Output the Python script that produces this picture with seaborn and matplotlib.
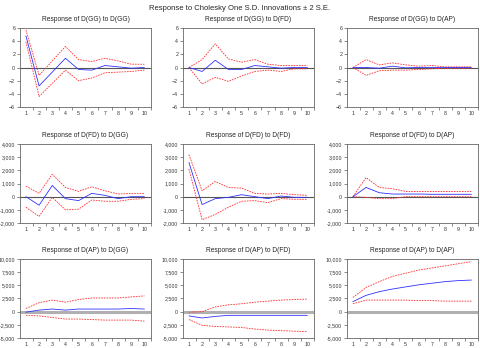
import numpy as np
import pandas as pd
import matplotlib
matplotlib.use("Agg")
import matplotlib.pyplot as plt
import matplotlib.ticker as mticker
import seaborn as sns

# periods
periods = list(range(1, 11))

# response, upper band, lower band for each panel
gg_gg = [4.8, -2.8, -0.7, 1.4, -0.3, -0.4, 0.3, 0.1, -0.1, 0.0]
gg_gg_hi = [5.7, -1.2, 1.0, 3.2, 1.2, 0.9, 1.4, 1.0, 0.5, 0.5]
gg_gg_lo = [3.9, -4.4, -2.4, -0.4, -2.0, -1.6, -0.8, -0.7, -0.6, -0.4]

gg_fd = [0.0, -0.6, 1.1, -0.3, -0.3, 0.3, 0.1, -0.1, 0.0, 0.0]
gg_fd_hi = [0.0, 1.2, 3.6, 1.3, 0.8, 1.2, 0.5, 0.3, 0.3, 0.3]
gg_fd_lo = [0.0, -2.5, -1.5, -2.1, -1.3, -0.6, -0.4, -0.6, -0.2, -0.2]

gg_ap = [0.0, 0.0, -0.1, 0.2, -0.05, 0.0, 0.0, 0.0, 0.0, 0.0]
gg_ap_hi = [0.0, 1.2, 0.4, 0.7, 0.4, 0.2, 0.3, 0.1, 0.1, 0.1]
gg_ap_lo = [0.0, -1.2, -0.5, -0.4, -0.4, -0.3, -0.2, -0.1, -0.1, -0.1]

fd_gg = [0, -650, 850, -150, -300, 250, 100, -150, 0, 0]
fd_gg_hi = [800, 250, 1700, 700, 400, 750, 450, 200, 250, 250]
fd_gg_lo = [-800, -1500, -50, -1000, -950, -250, -350, -350, -200, -150]

fd_fd = [2600, -600, -150, -50, 150, 0, -150, 50, -50, -50]
fd_fd_hi = [3200, 450, 1150, 700, 650, 250, 200, 250, 150, 100]
fd_fd_lo = [2100, -1750, -1350, -800, -350, -300, -450, -150, -200, -200]

fd_ap = [0, 700, 300, 200, 200, 200, 180, 180, 180, 180]
fd_ap_hi = [0, 1450, 700, 600, 400, 400, 400, 400, 400, 400]
fd_ap_lo = [0, -50, -150, -150, 0, 0, 0, 0, 0, 0]

ap_gg = [-100, 300, 500, 300, 500, 500, 500, 500, 600, 500]
ap_gg_hi = [600, 1700, 2200, 1800, 2300, 2600, 2600, 2600, 2800, 3000]
ap_gg_lo = [-700, -800, -1100, -1400, -1400, -1500, -1600, -1600, -1600, -1800]

ap_fd = [-800, -1200, -900, -700, -700, -700, -700, -700, -700, -700]
ap_fd_hi = [-100, 0, 900, 1300, 1500, 1800, 2000, 2200, 2300, 2400]
ap_fd_lo = [-1500, -2600, -2800, -2900, -3000, -3300, -3500, -3600, -3700, -3800]

ap_ap = [1900, 3100, 3800, 4300, 4700, 5100, 5400, 5700, 5900, 6000]
ap_ap_hi = [2700, 4600, 5700, 6700, 7300, 7900, 8300, 8700, 9100, 9500]
ap_ap_lo = [1500, 2200, 2200, 2200, 2200, 2100, 2100, 2000, 2000, 2000]

titles = [
    "Response of D(GG) to D(GG)", "Response of D(GG) to D(FD)", "Response of D(GG) to D(AP)",
    "Response of D(FD) to D(GG)", "Response of D(FD) to D(FD)", "Response of D(FD) to D(AP)",
    "Response of D(AP) to D(GG)", "Response of D(AP) to D(FD)", "Response of D(AP) to D(AP)",
]
panels = [
    (gg_gg, gg_gg_hi, gg_gg_lo), (gg_fd, gg_fd_hi, gg_fd_lo), (gg_ap, gg_ap_hi, gg_ap_lo),
    (fd_gg, fd_gg_hi, fd_gg_lo), (fd_fd, fd_fd_hi, fd_fd_lo), (fd_ap, fd_ap_hi, fd_ap_lo),
    (ap_gg, ap_gg_hi, ap_gg_lo), (ap_fd, ap_fd_hi, ap_fd_lo), (ap_ap, ap_ap_hi, ap_ap_lo),
]
row_ylim = [(-6, 6), (-2000, 4000), (-5000, 10000)]
row_yticks = [np.arange(-6, 7, 2), np.arange(-2000, 4001, 1000), np.arange(-5000, 10001, 2500)]

sns.set_style("white")
plt.rcParams['font.family'] = ['Liberation Sans', 'DejaVu Sans']

fig = plt.figure(figsize=(4.8, 3.48), dpi=100)
fig.text(0.5, 0.985, "Response to Cholesky One S.D. Innovations \u00b1 2 S.E.",
         ha="center", va="top", fontsize=5.5)

col_left = [20 / 480, 183 / 480, 347 / 480]
row_bottom = [1 - 107 / 348, 1 - 223 / 348, 1 - 338 / 348]
w, h = 131 / 480, 79 / 348

for i, (resp, hi, lo) in enumerate(panels):
    r, c = divmod(i, 3)
    ax = fig.add_axes([col_left[c], row_bottom[r], w, h])
    df = pd.DataFrame({"period": periods, "resp": resp, "hi": hi, "lo": lo})
    if r == 2:
        ax.axhline(0, color="#b0b0b0", lw=2.2, zorder=1)
    else:
        ax.axhline(0, color="#555555", lw=0.8, zorder=1)
    sns.lineplot(data=df, x="period", y="hi", ax=ax, color="#ff3030", lw=0.6,
                 linestyle=(0, (2, 1.2)))
    sns.lineplot(data=df, x="period", y="lo", ax=ax, color="#ff3030", lw=0.6,
                 linestyle=(0, (2, 1.2)))
    sns.lineplot(data=df, x="period", y="resp", ax=ax, color="#3030ff", lw=0.6)
    ax.set_xlim(0.55, 10.5)
    ax.set_ylim(*row_ylim[r])
    ax.set_yticks(row_yticks[r])
    ax.set_xticks(periods)
    ax.xaxis.set_minor_locator(mticker.FixedLocator(np.arange(0.5, 11, 1.0)))
    if r > 0:
        ax.yaxis.set_major_formatter(mticker.FuncFormatter(lambda v, p: f"{int(v):,}"))
    ax.tick_params(axis="both", which="major", labelsize=3.8, length=2, width=0.4,
                   pad=1.5, colors="#333333")
    ax.tick_params(axis="x", which="major", length=0, pad=3)
    ax.tick_params(axis="x", which="minor", length=2, width=0.4, bottom=True, colors="#333333")
    ax.tick_params(axis="y", left=True)
    ax.set_xlabel("")
    ax.set_ylabel("")
    ax.set_title(titles[i], fontsize=4.8, pad=5)
    for s in ax.spines.values():
        s.set_color("#666666")
        s.set_linewidth(0.6)

fig.savefig("out.png", dpi=100)
